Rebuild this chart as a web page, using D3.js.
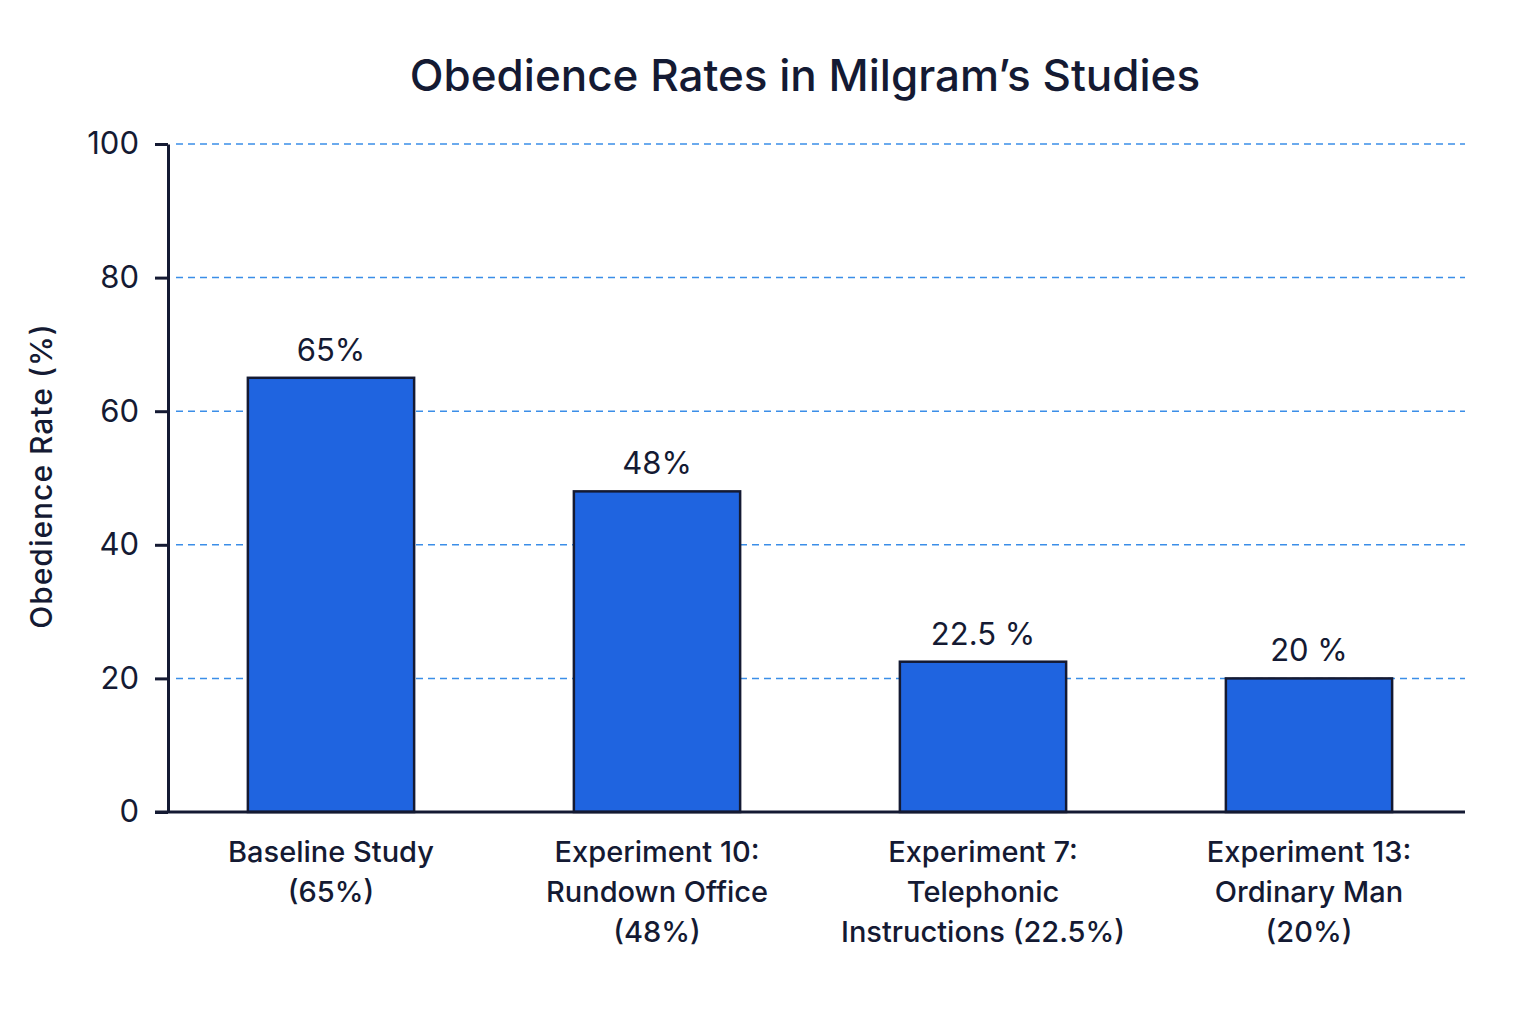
<!DOCTYPE html>
<html>
<head>
<meta charset="utf-8">
<script src="https://cdn.jsdelivr.net/npm/d3@7"></script>
<style>
  body { margin: 0; background: #ffffff; }
  text { font-family: Inter, "Noto Sans", sans-serif; fill: #141a33; }
</style>
</head>
<body>
<div id="container"></div>
<script>
"use strict";

const categories = [
  ["Baseline Study", "(65%)"],
  ["Experiment 10:", "Rundown Office", "(48%)"],
  ["Experiment 7:", "Telephonic", "Instructions (22.5%)"],
  ["Experiment 13:", "Ordinary Man", "(20%)"]
];
const values = [65, 48, 22.5, 20];
const valueLabels = ["65%", "48%", "22.5 %", "20 %"];
const yTicks = [0, 20, 40, 60, 80, 100];

const width = 1536;
const height = 1024;
const ink = "#141a33";

const svg = d3.create("svg").attr("width", width).attr("height", height);

const keys = categories.map((c) => c.join(" "));
const x = d3.scaleBand().domain(keys).range([168, 1472]).paddingInner(0.49).paddingOuter(0.245);
const y = d3.scaleLinear().domain([0, 100]).range([812, 144]);

// Title.
svg.append("text")
  .attr("x", 805)
  .attr("y", 91)
  .attr("text-anchor", "middle")
  .style("font-size", "44px")
  .style("font-weight", 500)
  .text("Obedience Rates in Milgram\u2019s Studies");

// Gridlines.
svg.append("g")
  .selectAll("line")
  .data(yTicks.filter((d) => d > 0))
  .enter()
  .append("line")
  .attr("x1", 176)
  .attr("x2", 1465)
  .attr("y1", (d) => y(d))
  .attr("y2", (d) => y(d))
  .attr("stroke", "#3b8ee8")
  .attr("stroke-width", 1.5)
  .attr("stroke-dasharray", "7,5");

// Bars.
svg.append("g")
  .selectAll("rect")
  .data(values)
  .enter()
  .append("rect")
  .attr("x", (d, i) => x(keys[i]))
  .attr("y", (d) => y(d))
  .attr("width", x.bandwidth())
  .attr("height", (d) => y(0) - y(d))
  .attr("fill", "#1f64e0")
  .attr("stroke", ink)
  .attr("stroke-width", 2.5);

// Value labels above bars.
svg.append("g")
  .selectAll("text")
  .data(values)
  .enter()
  .append("text")
  .attr("x", (d, i) => x(keys[i]) + x.bandwidth() / 2)
  .attr("y", (d) => y(d) - 17)
  .attr("text-anchor", "middle")
  .style("font-size", "31px")
  .text((d, i) => valueLabels[i]);

// Y axis.
const yAxis = svg.append("g")
  .attr("transform", "translate(168, 0)")
  .call(d3.axisLeft(y).tickValues(yTicks).tickSize(13).tickSizeOuter(0).tickPadding(16));
yAxis.select(".domain").attr("stroke", ink).attr("stroke-width", 3);
yAxis.selectAll(".tick line").attr("stroke", ink).attr("stroke-width", 3);
yAxis.selectAll(".tick text")
  .attr("fill", ink)
  .style("font-family", "Inter, 'Noto Sans', sans-serif")
  .style("font-size", "31px");

// X axis.
const xAxis = svg.append("g")
  .attr("transform", `translate(0, ${y(0)})`)
  .call(d3.axisBottom(x).tickSize(0).tickFormat(""));
xAxis.select(".domain").remove();
svg.append("line")
  .attr("x1", 155)
  .attr("x2", 1465)
  .attr("y1", y(0))
  .attr("y2", y(0))
  .attr("stroke", ink)
  .attr("stroke-width", 3);

// Category labels, one line per tspan.
const catLabels = svg.append("g")
  .selectAll("text")
  .data(categories)
  .enter()
  .append("text")
  .attr("text-anchor", "middle")
  .attr("transform", (d, i) => `translate(${x(keys[i]) + x.bandwidth() / 2}, ${y(0) + 50})`)
  .style("font-size", "29px")
  .style("font-weight", 500);
catLabels.selectAll("tspan")
  .data((d) => d)
  .enter()
  .append("tspan")
  .attr("x", 0)
  .attr("y", (d, i) => i * 40)
  .text((d) => d);

// Y axis title.
svg.append("text")
  .attr("transform", "translate(52, 476) rotate(-90)")
  .attr("text-anchor", "middle")
  .style("font-size", "30px")
  .style("font-weight", 500)
  .style("letter-spacing", "1px")
  .text("Obedience Rate (%)");

document.getElementById("container").append(svg.node());
</script>
</body>
</html>
